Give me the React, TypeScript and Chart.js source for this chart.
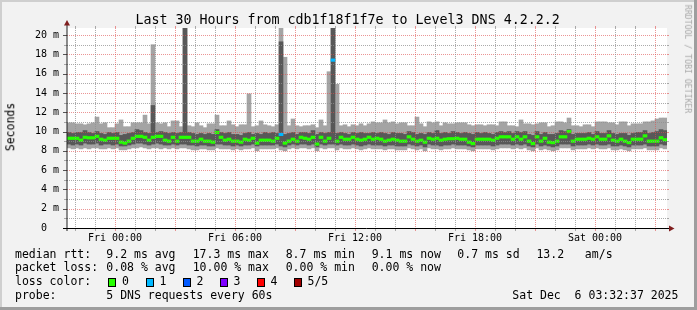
import React, { useEffect, useRef } from 'react';
import { Chart, registerables } from 'chart.js';

Chart.register(...registerables);

// ---- time axis (hours since Thu 00:00) ----
const START_HOUR = 21.6; // Thu 21:36
const END_HOUR = 51.6; // Sat 03:36
const STEP_HOURS = 0.2;
const Y_MAX = 20.73;

const timeTickHours = [24, 30, 36, 42, 48];
const timeTickLabels = ['Fri 00:00', 'Fri 06:00', 'Fri 12:00', 'Fri 18:00', 'Sat 00:00'];
const yTickValues = [0, 2, 4, 6, 8, 10, 12, 14, 16, 18, 20];
const yTickLabels = ['0  ', '2 m', '4 m', '6 m', '8 m', '10 m', '12 m', '14 m', '16 m', '18 m', '20 m'];

// ---- smoke data (ms): sorted pings per step ----
const rttMin = [
  8.3, 8.2, 8.3, 8.2, 8.3, 8.2, 8.3, 8.3, 8.2, 8.2, 8.3, 8.2, 8.3, 8.1, 8.1, 8.2, 8.3, 8.3, 8.4, 8.3, 8.2, 8.3, 8.3, 8.2, 8.3,
  8.2, 8.3, 8.2, 8.3, 8.3, 8.2, 8.1, 8.1, 8.2, 8.2, 8.1, 8.1, 8.3, 8.2, 8.2, 8.2, 8.1, 8.2, 8.1, 8.2, 8.2, 8.3, 8.0, 8.2, 8.2,
  8.2, 8.2, 8.3, 8.1, 8.0, 8.2, 8.3, 8.2, 8.3, 8.3, 8.2, 8.3, 8.0, 8.3, 8.2, 8.3, 8.3, 8.1, 8.3, 8.2, 8.2, 8.3, 8.2, 8.1, 8.2,
  8.3, 8.2, 8.2, 8.2, 8.1, 8.2, 8.2, 8.1, 8.1, 8.1, 8.3, 8.2, 8.1, 8.2, 8.0, 8.3, 8.2, 8.2, 8.1, 8.2, 8.2, 8.3, 8.2, 8.2, 8.2,
  8.1, 8.0, 8.2, 8.2, 8.2, 8.2, 8.1, 8.2, 8.3, 8.3, 8.3, 8.2, 8.3, 8.2, 8.3, 8.1, 8.0, 8.3, 8.1, 8.2, 8.1, 8.0, 8.1, 8.3, 8.3,
  8.3, 8.1, 8.2, 8.2, 8.2, 8.3, 8.2, 8.3, 8.2, 8.2, 8.3, 8.1, 8.1, 8.2, 8.1, 8.0, 8.2, 8.2, 8.2, 8.3, 8.1, 8.1, 8.1, 8.3, 8.2,
];
const rttLowQ = [
  8.7, 8.6, 8.7, 8.6, 8.8, 8.7, 8.7, 8.8, 8.6, 8.7, 8.7, 8.6, 8.7, 8.5, 8.5, 8.6, 8.7, 8.8, 8.8, 8.7, 8.6, 8.7, 8.8, 8.7, 8.6,
  8.6, 8.7, 8.6, 8.7, 8.7, 8.6, 8.6, 8.5, 8.6, 8.6, 8.5, 8.5, 8.7, 8.7, 8.6, 8.6, 8.5, 8.6, 8.5, 8.6, 8.6, 8.7, 8.5, 8.6, 8.6,
  8.6, 8.6, 8.7, 8.5, 8.4, 8.6, 8.7, 8.6, 8.7, 8.7, 8.6, 8.7, 8.4, 8.7, 8.6, 8.7, 8.7, 8.6, 8.7, 8.6, 8.6, 8.7, 8.6, 8.5, 8.6,
  8.7, 8.6, 8.6, 8.6, 8.5, 8.6, 8.6, 8.5, 8.5, 8.5, 8.7, 8.6, 8.5, 8.6, 8.4, 8.7, 8.6, 8.6, 8.5, 8.6, 8.6, 8.7, 8.6, 8.6, 8.6,
  8.5, 8.4, 8.6, 8.6, 8.6, 8.6, 8.5, 8.6, 8.7, 8.7, 8.7, 8.6, 8.7, 8.6, 8.7, 8.5, 8.4, 8.7, 8.5, 8.6, 8.5, 8.4, 8.5, 8.7, 8.7,
  8.7, 8.5, 8.6, 8.6, 8.6, 8.7, 8.6, 8.7, 8.6, 8.6, 8.7, 8.5, 8.5, 8.6, 8.5, 8.4, 8.6, 8.6, 8.6, 8.7, 8.5, 8.5, 8.5, 8.7, 8.6,
];
const rttMedian = [
  9.3, 9.3, 9.3, 9.1, 9.4, 9.35, 9.35, 9.5, 9.2, 9.1, 9.3, 9.3, 9.3, 8.9, 8.8, 9.0, 9.3, 9.5, 9.5, 9.4, 9.1, 9.4, 9.5, 9.5, 9.1,
  9.0, 9.4, 9.0, 9.4, 9.4, 9.4, 9.0, 9.0, 9.2, 9.0, 9.0, 8.9, 9.9, 9.4, 9.1, 9.2, 9.0, 9.0, 8.9, 9.2, 9.1, 9.3, 8.8, 9.1, 9.1,
  9.1, 9.0, 9.3, 9.7, 8.8, 9.0, 9.2, 9.0, 9.4, 9.3, 9.2, 9.4, 8.7, 9.4, 9.0, 9.3, 17.4, 9.0, 9.4, 9.2, 9.2, 9.4, 9.2, 9.1, 9.2,
  9.4, 9.2, 9.3, 9.2, 9.0, 9.1, 9.2, 9.1, 9.0, 9.0, 9.45, 9.2, 9.0, 9.1, 8.9, 9.3, 9.2, 9.3, 9.1, 9.2, 9.25, 9.25, 9.3, 9.2, 9.2,
  8.9, 8.75, 9.2, 9.2, 9.2, 9.2, 9.1, 9.3, 9.45, 9.45, 9.45, 9.2, 9.45, 9.2, 9.45, 9.0, 8.75, 9.45, 9.0, 9.3, 8.9, 8.85, 9.0, 9.45, 9.45,
  10.0, 9.0, 9.2, 9.2, 9.2, 9.3, 9.2, 9.45, 9.2, 9.2, 9.55, 9.1, 9.0, 9.2, 9.0, 8.85, 9.2, 9.2, 9.2, 9.55, 9.0, 9.0, 9.0, 9.35, 9.15,
];
const rttHighQ = [
  9.9, 9.8, 9.9, 9.9, 10.1, 9.9, 9.8, 10.0, 9.8, 9.7, 9.9, 9.8, 9.9, 9.6, 9.7, 9.8, 9.9, 10.2, 10.1, 9.9, 9.8, 12.7, 9.9, 10.0, 9.9,
  9.8, 9.9, 9.8, 9.9, 21.5, 9.9, 9.8, 9.7, 9.8, 9.7, 9.8, 9.7, 10.2, 9.9, 9.8, 9.9, 9.7, 9.7, 9.6, 9.8, 9.9, 9.7, 9.8, 9.7, 9.9,
  9.8, 9.9, 9.8, 19.3, 9.7, 9.8, 9.9, 9.7, 9.9, 9.9, 9.8, 10.1, 9.7, 9.9, 9.8, 9.9, 21.5, 9.8, 9.9, 9.8, 9.7, 9.9, 9.8, 9.9, 9.8,
  9.8, 9.9, 9.8, 9.9, 9.8, 9.7, 9.9, 9.8, 9.8, 9.7, 10.0, 9.9, 9.7, 9.8, 9.7, 9.9, 9.8, 10.1, 9.8, 9.9, 9.8, 10.0, 9.9, 9.8, 9.9,
  9.8, 9.7, 9.9, 9.8, 9.9, 9.8, 9.7, 9.9, 10.0, 9.9, 10.0, 9.8, 10.0, 9.9, 10.0, 9.7, 9.6, 10.0, 9.7, 9.9, 9.7, 9.7, 9.8, 10.1, 10.0,
  10.2, 9.7, 9.8, 9.8, 9.8, 9.9, 9.7, 10.0, 9.8, 9.8, 10.1, 9.8, 9.7, 9.8, 9.8, 9.6, 9.8, 9.9, 9.9, 10.1, 9.8, 9.9, 10.0, 10.2, 10.1,
];
const rttMax = [
  10.9, 10.9, 10.8, 10.8, 10.7, 10.8, 10.9, 11.5, 10.8, 10.9, 10.4, 10.4, 10.8, 11.2, 10.5, 10.5, 10.9, 10.9, 10.9, 11.7, 10.8, 19.0, 10.9, 10.8, 10.9,
  10.5, 11.1, 11.1, 10.5, 21.5, 10.6, 10.5, 10.9, 10.6, 10.4, 10.8, 10.8, 11.7, 10.6, 10.6, 11.1, 10.7, 10.5, 10.7, 10.7, 13.9, 10.5, 10.6, 11.1, 10.7,
  10.6, 10.5, 10.7, 21.5, 17.7, 10.6, 11.3, 10.6, 10.5, 10.6, 10.6, 10.7, 10.4, 11.2, 10.6, 16.2, 21.5, 14.9, 10.6, 10.7, 10.5, 10.7, 10.6, 10.8, 10.6,
  10.8, 11.0, 10.9, 10.9, 11.2, 10.9, 11.0, 10.8, 10.9, 10.9, 10.6, 10.6, 11.5, 10.8, 10.5, 11.0, 10.9, 11.0, 10.6, 10.9, 10.8, 10.8, 10.9, 10.9, 10.9,
  10.7, 10.6, 10.7, 10.7, 10.6, 10.7, 10.7, 10.6, 11.0, 11.0, 10.6, 10.6, 10.5, 11.2, 10.8, 10.8, 10.7, 10.8, 10.9, 10.9, 10.5, 10.6, 11.0, 11.0, 10.9,
  11.4, 10.6, 10.6, 10.5, 10.7, 10.7, 10.5, 11.0, 11.0, 11.0, 10.9, 10.9, 10.7, 11.0, 11.0, 10.6, 10.8, 10.8, 10.8, 11.0, 11.0, 11.1, 11.3, 11.4, 11.4,
];
// lost pings (of 5) per step
const lossCount = [
  0, 0, 0, 0, 0, 0, 0, 0, 0, 0, 0, 0, 0, 0, 0, 0, 0, 0, 0, 0, 0, 0, 0, 0, 0,
  0, 0, 0, 0, 0, 0, 0, 0, 0, 0, 0, 0, 0, 0, 0, 0, 0, 0, 0, 0, 0, 0, 0, 0, 0,
  0, 0, 0, 1, 0, 0, 0, 0, 0, 0, 0, 0, 0, 0, 0, 0, 1, 0, 0, 0, 0, 0, 0, 0, 0,
  0, 0, 0, 0, 0, 0, 0, 0, 0, 0, 0, 0, 0, 0, 0, 0, 0, 0, 0, 0, 0, 0, 0, 0, 0,
  0, 0, 0, 0, 0, 0, 0, 0, 0, 0, 0, 0, 0, 0, 0, 0, 0, 0, 0, 0, 0, 0, 0, 0, 0,
  0, 0, 0, 0, 0, 0, 0, 0, 0, 0, 0, 0, 0, 0, 0, 0, 0, 0, 0, 0, 0, 0, 0, 0, 0,
];
const lossColors = ['#26ff00', '#00b8ff', '#0059ff', '#7e00ff', '#ff0000', '#a10000'];
const lossLabels = ['0', '1', '2', '3', '4', '5/5'];

const MONO = "'DejaVu Sans Mono', monospace";
const GRID = 'rgba(143,143,143,0.75)';
const MGRID = 'rgba(222,79,79,0.6)';
const ARROW = '#801f1f';
const AXIS = '#1f1f1f';
const MEDIAN_HALF = 0.13;

const xAt = (i: number) => START_HOUR + STEP_HOURS * (i + 0.5);

const rrdPlugin = {
  id: 'rrdLook',
  beforeDraw(chart: any) {
    const { ctx, chartArea: a } = chart;
    ctx.save();
    ctx.fillStyle = '#ffffff';
    ctx.fillRect(a.left, a.top, a.right - a.left, a.bottom - a.top);
    ctx.restore();
  },
  afterDatasetsDraw(chart: any) {
    const { ctx, chartArea: a } = chart;
    const xs = chart.scales.x;
    const ys = chart.scales.y;
    ctx.save();
    ctx.lineWidth = 1;
    // horizontal grid (every 1 ms, major every 2 ms)
    for (let v = 1; v <= Math.floor(Y_MAX); v++) {
      const major = v % 2 === 0;
      const py = Math.round(ys.getPixelForValue(v)) + 0.5;
      ctx.strokeStyle = major ? MGRID : GRID;
      ctx.setLineDash([]);
      ctx.beginPath();
      ctx.moveTo(a.left - 3, py); ctx.lineTo(a.left, py);
      ctx.moveTo(a.right, py); ctx.lineTo(a.right + 2, py);
      ctx.stroke();
      ctx.setLineDash([1, 1]);
      ctx.beginPath();
      ctx.moveTo(a.left, py); ctx.lineTo(a.right, py);
      ctx.stroke();
    }
    // vertical grid (every hour, major every 3 hours)
    for (let h = Math.ceil(START_HOUR); h <= Math.floor(END_HOUR); h++) {
      const major = h % 3 === 0;
      const px = Math.round(xs.getPixelForValue(h)) + 0.5;
      ctx.strokeStyle = major ? MGRID : GRID;
      ctx.setLineDash([]);
      ctx.beginPath();
      ctx.moveTo(px, a.top - 2); ctx.lineTo(px, a.top);
      ctx.moveTo(px, a.bottom); ctx.lineTo(px, a.bottom + 3);
      ctx.stroke();
      ctx.setLineDash([1, 1]);
      ctx.beginPath();
      ctx.moveTo(px, a.top); ctx.lineTo(px, a.bottom);
      ctx.stroke();
    }
    ctx.setLineDash([]);
    // y tick marks at labelled values
    ctx.strokeStyle = '#555';
    yTickValues.forEach((v) => {
      const py = Math.round(ys.getPixelForValue(v)) + 0.5;
      ctx.beginPath(); ctx.moveTo(a.left - 4, py); ctx.lineTo(a.left, py); ctx.stroke();
    });
    // axes
    ctx.strokeStyle = AXIS;
    ctx.beginPath();
    ctx.moveTo(a.left, a.top - 3); ctx.lineTo(a.left, a.bottom + 3);
    ctx.stroke();
    ctx.strokeStyle = '#000';
    ctx.beginPath();
    ctx.moveTo(a.left - 4, a.bottom + 0.5); ctx.lineTo(a.right + 3, a.bottom + 0.5);
    ctx.stroke();
    // arrows
    ctx.fillStyle = ARROW;
    ctx.beginPath();
    ctx.moveTo(a.left - 3, a.top - 2.5); ctx.lineTo(a.left + 3, a.top - 2.5); ctx.lineTo(a.left, a.top - 8);
    ctx.closePath(); ctx.fill();
    ctx.beginPath();
    ctx.moveTo(a.right + 2, a.bottom - 2.5); ctx.lineTo(a.right + 2, a.bottom + 3.5); ctx.lineTo(a.right + 7.5, a.bottom + 0.5);
    ctx.closePath(); ctx.fill();
    ctx.restore();
  },
};

function ChartCanvas() {
  const ref = useRef<HTMLCanvasElement | null>(null);
  useEffect(() => {
    if (!ref.current) return;
    const outer = rttMax.map((v, i) => ({ x: xAt(i), y: [rttMin[i], v] }));
    const inner = rttHighQ.map((v, i) => ({ x: xAt(i), y: [rttLowQ[i], v] }));
    const median = rttMedian.map((v, i) => ({ x: xAt(i), y: [v - MEDIAN_HALF, v + MEDIAN_HALF] }));
    const common = {
      grouped: false,
      barPercentage: 1,
      categoryPercentage: 1,
      borderWidth: 0,
      clip: 0,
    };
    const chart = new Chart(ref.current, {
      type: 'bar',
      data: {
        datasets: [
          {
            ...common,
            label: 'median rtt',
            data: median as any,
            backgroundColor: (c: any) => lossColors[lossCount[c.dataIndex] || 0],
            order: 0,
          },
          { ...common, label: 'smoke inner', data: inner as any, backgroundColor: '#585858', order: 1 },
          { ...common, label: 'smoke outer', data: outer as any, backgroundColor: '#a4a4a4', order: 2 },
        ],
      },
      options: {
        responsive: false,
        animation: false,
        devicePixelRatio: 1,
        layout: { padding: { left: 0, top: 28, right: 30, bottom: 0 } },
        plugins: {
          legend: { display: false },
          tooltip: { enabled: false },
          title: { display: false },
        },
        scales: {
          x: {
            type: 'linear',
            min: START_HOUR,
            max: END_HOUR,
            offset: false,
            grid: { display: false, drawTicks: false },
            border: { display: false },
            afterBuildTicks: (s: any) => {
              s.ticks = timeTickHours.map((v) => ({ value: v }));
            },
            afterFit: (s: any) => {
              s.height = 82;
            },
            ticks: {
              autoSkip: false,
              maxRotation: 0,
              minRotation: 0,
              padding: 4,
              color: '#000',
              font: { family: MONO, size: 10 },
              callback: (v: any) => {
                const k = timeTickHours.indexOf(Number(v));
                return k >= 0 ? timeTickLabels[k] : '';
              },
            },
          },
          y: {
            type: 'linear',
            min: 0,
            max: Y_MAX,
            grid: { display: false, drawTicks: false },
            border: { display: false },
            afterBuildTicks: (s: any) => {
              s.ticks = yTickValues.map((v) => ({ value: v }));
            },
            afterFit: (s: any) => {
              s.width = 67;
            },
            ticks: {
              padding: 8,
              color: '#000',
              font: { family: MONO, size: 10 },
              callback: (v: any) => {
                const k = yTickValues.indexOf(Number(v));
                return k >= 0 ? yTickLabels[k] : '';
              },
            },
          },
        },
      } as any,
      plugins: [rrdPlugin],
    });
    return () => chart.destroy();
  }, []);
  return (
    <canvas
      ref={ref}
      width={697}
      height={310}
      style={{ position: 'absolute', left: 0, top: 0, width: 697, height: 310 }}
    />
  );
}

function Txt(props: { x: number; top: number; size: number; text: string; color?: string }) {
  return (
    <div
      style={{
        position: 'absolute',
        left: props.x,
        top: props.top,
        fontFamily: MONO,
        fontSize: props.size,
        lineHeight: `${props.size}px`,
        whiteSpace: 'pre',
        color: props.color || '#000',
      }}
    >
      {props.text}
    </div>
  );
}

const LEG = 11.5;
const squareX = [108, 145.5, 182.5, 219.5, 256.5, 293.5];

export default function App() {
  return (
    <div
      style={{
        position: 'absolute',
        left: 0,
        top: 0,
        width: 697,
        height: 310,
        background: '#f2f2f2',
        overflow: 'hidden',
      }}
    >
      {/* frame shades */}
      <div style={{ position: 'absolute', left: 0, top: 0, width: 697, height: 2, background: '#cfcfcf' }} />
      <div style={{ position: 'absolute', left: 0, top: 0, width: 2, height: 310, background: '#cfcfcf' }} />
      <div style={{ position: 'absolute', left: 0, top: 307, width: 697, height: 3, background: '#9e9e9e' }} />
      <div style={{ position: 'absolute', left: 694, top: 0, width: 3, height: 310, background: '#9e9e9e' }} />

      <ChartCanvas />

      <Txt x={135.4} top={12.75} size={13.3} text="Last 30 Hours from cdb1f18f1f7e to Level3 DNS 4.2.2.2" />

      <div
        style={{
          position: 'absolute',
          left: 10.5,
          top: 126.5,
          transform: 'translate(-50%, -50%) rotate(-90deg)',
          fontFamily: MONO,
          fontSize: 11.5,
          lineHeight: '11.5px',
          whiteSpace: 'pre',
          color: '#000',
        }}
      >
        Seconds
      </div>
      <div
        style={{
          position: 'absolute',
          left: 688,
          top: 59,
          transform: 'translate(-50%, -50%) rotate(90deg)',
          fontFamily: MONO,
          fontSize: 8.2,
          lineHeight: '8.2px',
          whiteSpace: 'pre',
          color: '#a8a8a8',
        }}
      >
        RRDTOOL / TOBI OETIKER
      </div>

      {/* legend line 1 */}
      <Txt x={15} top={248.8} size={LEG} text="median rtt:" />
      <Txt x={106.3} top={248.8} size={LEG} text="9.2 ms avg" />
      <Txt x={192.7} top={248.8} size={LEG} text="17.3 ms max" />
      <Txt x={285.7} top={248.8} size={LEG} text="8.7 ms min" />
      <Txt x={371.7} top={248.8} size={LEG} text="9.1 ms now" />
      <Txt x={457.3} top={248.8} size={LEG} text="0.7 ms sd" />
      <Txt x={536.4} top={248.8} size={LEG} text="13.2   am/s" />
      {/* legend line 2 */}
      <Txt x={15} top={262.1} size={LEG} text="packet loss:" />
      <Txt x={106.3} top={262.1} size={LEG} text="0.08 % avg" />
      <Txt x={192.7} top={262.1} size={LEG} text="10.00 % max" />
      <Txt x={285.7} top={262.1} size={LEG} text="0.00 % min" />
      <Txt x={371.7} top={262.1} size={LEG} text="0.00 % now" />
      {/* legend line 3 */}
      <Txt x={15} top={276.1} size={LEG} text="loss color:" />
      {lossColors.map((c, k) => (
        <React.Fragment key={k}>
          <div
            style={{
              position: 'absolute',
              left: squareX[k],
              top: 277.5,
              width: 8,
              height: 9,
              boxSizing: 'border-box',
              border: '1px solid #000',
              background: c,
            }}
          />
          <Txt x={squareX[k] + 14} top={276.1} size={LEG} text={lossLabels[k]} />
        </React.Fragment>
      ))}
      {/* legend line 4 */}
      <Txt x={15} top={289.5} size={LEG} text="probe:" />
      <Txt x={106.3} top={289.5} size={LEG} text="5 DNS requests every 60s" />
      <Txt x={512.3} top={289.5} size={LEG} text="Sat Dec  6 03:32:37 2025" />
    </div>
  );
}
